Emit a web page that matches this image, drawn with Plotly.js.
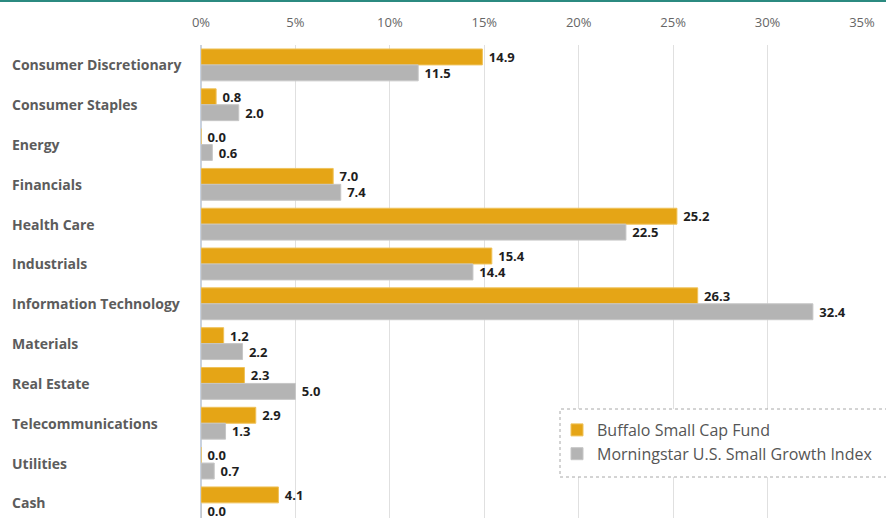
<!DOCTYPE html>
<html>
<head>
<meta charset="utf-8">
<script src="https://cdn.plot.ly/plotly-3.0.1.min.js"></script>
<style>
  html, body { margin: 0; padding: 0; background: #fff; }
  #wrap { position: relative; width: 886px; height: 518px; }
  #chart { width: 886px; height: 518px; }
  #topline { position: absolute; left: 0; top: 0; width: 886px; height: 2px; background: #2b8a80; }
</style>
</head>
<body>
<div id="wrap">
  <div id="chart"></div>
  <div id="topline"></div>
</div>
<script>
const categories = [
  "Consumer Discretionary", "Consumer Staples", "Energy", "Financials",
  "Health Care", "Industrials", "Information Technology", "Materials",
  "Real Estate", "Telecommunications", "Utilities", "Cash"
];
const fundName = "Buffalo Small Cap Fund";
const indexName = "Morningstar U.S. Small Growth Index";
const fundValues = [14.9, 0.8, 0.0, 7.0, 25.2, 15.4, 26.3, 1.2, 2.3, 2.9, 0.0, 4.1];
const indexValues = [11.5, 2.0, 0.6, 7.4, 22.5, 14.4, 32.4, 2.2, 5.0, 1.3, 0.7, 0.0];
const xTickVals = [0, 5, 10, 15, 20, 25, 30, 35];
const xTickText = ["0%", "5%", "10%", "15%", "20%", "25%", "30%", "35%"];

const FONT = "Open Sans, Noto Sans, sans-serif";
const W = 886, H = 518;
const L = 201, R = 24, T = 45, B = 0;
const pw = W - L - R, ph = H - T - B;
const px = v => (v - L) / pw;
const py = v => (H - B - v) / ph;

const labelFont = { family: FONT, size: 13, color: "#1e1e1e", weight: "bold" };

const traces = [
  {
    type: "bar", orientation: "h", name: fundName,
    y: categories.map((c, i) => i), x: fundValues,
    marker: { color: "#e5a516", line: { color: "#efc25a", width: 1 } },
    texttemplate: "\u00a0%{x:.1f}", textposition: "outside", cliponaxis: false,
    constraintext: "none", textfont: labelFont, hoverinfo: "skip"
  },
  {
    type: "bar", orientation: "h", name: indexName,
    y: categories.map((c, i) => i), x: indexValues,
    marker: { color: "#b4b4b4", line: { color: "#c6c6c6", width: 1 } },
    texttemplate: "\u00a0%{x:.1f}", textposition: "outside", cliponaxis: false,
    constraintext: "none", textfont: labelFont, hoverinfo: "skip"
  }
];

const annotations = categories.map((c, i) => ({
  xref: "paper", yref: "y", x: px(10), y: i, xanchor: "left", yanchor: "middle",
  text: c, showarrow: false,
  font: { family: FONT, size: 14, color: "#5c5c5c", weight: "bold" }
}));

const layout = {
  width: W, height: H,
  margin: { l: L, r: R, t: T, b: B, pad: 0 },
  paper_bgcolor: "#ffffff", plot_bgcolor: "#ffffff",
  barmode: "group", bargap: 0.2, bargroupgap: 0,
  showlegend: true,
  font: { family: FONT },
  xaxis: {
    side: "top", range: [0, 35], tickvals: xTickVals, ticktext: xTickText,
    showgrid: true, gridcolor: "#e0e0e0", gridwidth: 1,
    zeroline: true, zerolinecolor: "#c9d2df", zerolinewidth: 2,
    ticks: "", ticklabelstandoff: 14,
    tickfont: { family: FONT, size: 13, color: "#666666" },
    fixedrange: true
  },
  yaxis: {
    range: [categories.length - 0.62, -0.5], showticklabels: false,
    showgrid: false, zeroline: false, ticks: "", fixedrange: true
  },
  legend: {
    x: px(557), y: py(413), xanchor: "left", yanchor: "top",
    bgcolor: "rgba(0,0,0,0)", borderwidth: 0,
    font: { family: FONT, size: 16, color: "#555555" },
    tracegroupgap: 0, itemclick: false, itemdoubleclick: false,
    traceorder: "normal"
  },
  shapes: [{
    type: "rect", xref: "paper", yref: "paper",
    x0: px(560), x1: px(900), y0: py(477), y1: py(409),
    fillcolor: "#ffffff", line: { color: "#a8a8a8", width: 1, dash: "dot" },
    layer: "above"
  }],
  annotations: annotations
};

Plotly.newPlot("chart", traces, layout, { displayModeBar: false, staticPlot: true });
</script>
</body>
</html>
